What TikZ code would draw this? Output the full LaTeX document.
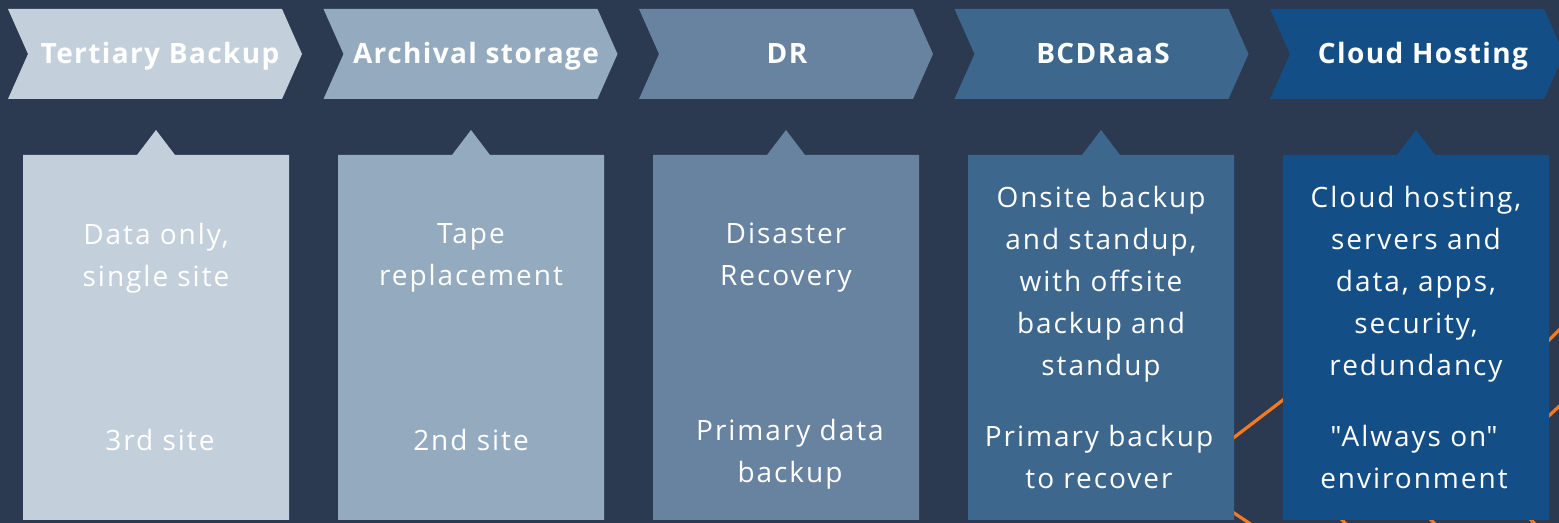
\documentclass[tikz,border=0pt]{standalone}
\usepackage{fontspec}
\setmainfont{Open Sans}[LetterSpace=7, BoldFeatures={LetterSpace=5}]
\usepackage{tikz}

\definecolor{bgnavy}{HTML}{2C3A51}
\definecolor{stepA}{HTML}{C3D0DB}
\definecolor{stepB}{HTML}{93AABF}
\definecolor{stepC}{HTML}{67839F}
\definecolor{stepD}{HTML}{3D678D}
\definecolor{stepE}{HTML}{134F86}
\definecolor{accent}{HTML}{F47B20}

\begin{document}
\begin{tikzpicture}
[x=0.5pt, y=-0.5pt,
 head/.style={text=white, font=\fontsize{14}{17}\selectfont\bfseries, inner sep=0pt, anchor=base},
 body/.style={text=white, font=\fontsize{14}{21}\selectfont, align=center, inner sep=0pt},
 accline/.style={draw=accent, line width=1.6pt}]
\fill[bgnavy] (0,0) rectangle (1559,523);
\useasboundingbox (0,0) rectangle (1559,523);
% orange lines behind the last boxes
\draw[accline] (1215,452) -- (1300,387);
\draw[accline] (1225,507) -- (1258,529);
\draw[accline] (1540,349) -- (1566,323);
\draw[accline] (1540,424) -- (1566,400);
\draw[accline] (1336,514) -- (1350,528);
\draw[accline] (1425,514) -- (1439,528);
\draw[accline] (1525,514) -- (1539,528);
% chevrons
\fill[stepA] (8,9) -- ++(274,0) -- ++(20,45) -- ++(-20,45) -- ++(-274,0) -- ++(20,-45) -- cycle;
\fill[stepB] (323.5,9) -- ++(274,0) -- ++(20,45) -- ++(-20,45) -- ++(-274,0) -- ++(20,-45) -- cycle;
\fill[stepC] (639,9) -- ++(274,0) -- ++(20,45) -- ++(-20,45) -- ++(-274,0) -- ++(20,-45) -- cycle;
\fill[stepD] (954.5,9) -- ++(274,0) -- ++(20,45) -- ++(-20,45) -- ++(-274,0) -- ++(20,-45) -- cycle;
\fill[stepE] (1270,9) -- ++(274,0) -- ++(20,45) -- ++(-20,45) -- ++(-274,0) -- ++(20,-45) -- cycle;
\node[head] (h1) at (160,64) {Tertiary Backup};
\node[head] (h2) at (476,64) {Archival storage};
\node[head] (h3) at (787,64) {DR};
\node[head] (h4) at (1103,64) {BCDRaaS};
\node[head] (h5) at (1423,64) {Cloud Hosting};
% boxes with a notch on top
\fill[stepA] (23,155) -- ++(114,0) -- ++(19,-25) -- ++(19,25) -- ++(114,0) -- ++(0,365) -- ++(-266,0) -- cycle;
\fill[stepB] (338,155) -- ++(114,0) -- ++(19,-25) -- ++(19,25) -- ++(114,0) -- ++(0,365) -- ++(-266,0) -- cycle;
\fill[stepC] (653,155) -- ++(114,0) -- ++(19,-25) -- ++(19,25) -- ++(114,0) -- ++(0,365) -- ++(-266,0) -- cycle;
\fill[stepD] (968,155) -- ++(114,0) -- ++(19,-25) -- ++(19,25) -- ++(114,0) -- ++(0,365) -- ++(-266,0) -- cycle;
\fill[stepE] (1283,155) -- ++(114,0) -- ++(19,-25) -- ++(19,25) -- ++(114,0) -- ++(0,365) -- ++(-266,0) -- cycle;
\node[body] (t1) at (156,258) {Data only,\\single site};
\node[body] (t2) at (471,258) {Tape\\replacement};
\node[body] (t3) at (786,258) {Disaster\\Recovery};
\node[body] (t4) at (1101,284) {Onsite backup\\and standup,\\with offsite\\backup and\\standup};
\node[body] (t5) at (1416,284) {Cloud hosting,\\servers and\\data, apps,\\security,\\redundancy};
\node[body] (b1) at (160,440) {3rd site};
\node[body] (b2) at (471,440) {2nd site};
\node[body] (b3) at (790,454) {Primary data\\backup};
\node[body] (b4) at (1099,457) {Primary backup\\to recover};
\node[body] (b5) at (1414,457) {\textquotedbl Always on\textquotedbl\\environment};
\end{tikzpicture}
\end{document}
